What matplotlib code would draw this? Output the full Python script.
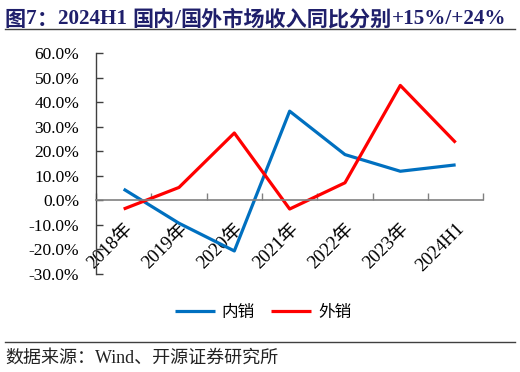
import matplotlib
matplotlib.use("Agg")
import matplotlib.pyplot as plt
from matplotlib.lines import Line2D

categories = ["2018年", "2019年", "2020年", "2021年", "2022年", "2023年", "2024H1"]
domestic = [4.6, -9.3, -20.6, 36.4, 18.7, 11.9, 14.5]
overseas = [-3.5, 5.3, 27.5, -3.5, 7.2, 46.9, 23.6]
yticks = [-30, -20, -10, 0, 10, 20, 30, 40, 50, 60]
title_parts = [("图", "cjk"), ("7", "lat"), ("：", "cjk"), ("2024H1 ", "lat"),
               ("国内", "cjk"), ("/", "lat"), ("国外市场收入同比分别", "cjk"),
               ("+15%/+24%", "lat")]

serif_cjk = ["Liberation Serif", "Noto Sans CJK SC"]
plt.rcParams["font.family"] = serif_cjk

fig = plt.figure(figsize=(5.2, 3.72), dpi=100)
ax = fig.add_axes([96 / 520, 1 - 274 / 372, (483.3 - 96) / 520, (274 - 53.3) / 372])

for s in ["top", "right"]:
    ax.spines[s].set_visible(False)
ax.spines["bottom"].set_position(("data", 0))
ax.spines["bottom"].set_color("#808080")
ax.spines["bottom"].set_linewidth(1.2)
ax.spines["left"].set_color("#404040")
ax.spines["left"].set_linewidth(1)

x = list(range(len(categories)))
ax.plot(x, domestic, color="#0070C0", lw=2.3, label="内销", solid_capstyle="butt")
ax.plot(x, overseas, color="#FF0000", lw=2.3, label="外销", solid_capstyle="butt")

ax.set_xlim(-0.5, len(categories) - 0.5)
ax.set_ylim(-30, 60)

ax.tick_params(axis="x", which="major", length=0, pad=14)
ax.tick_params(axis="x", which="minor", direction="in", length=5, color="#808080", width=1)
ax.tick_params(axis="y", direction="in", length=5, color="#404040", width=1, pad=12)

ax.set_yticks(yticks)
ax.set_yticklabels([f"{v:.1f}%" for v in yticks], fontsize=12.5)
ax.set_xticks([i - 0.5 for i in range(len(categories) + 1)], minor=True)
ax.set_xticks(x)
ax.set_xticklabels(categories, rotation=45, rotation_mode="anchor",
                   ha="right", va="top", fontsize=13.5)

# Title built from pieces so Latin parts stay bold serif
renderer = fig.canvas.get_renderer()
xpos = 5
for txt, kind in title_parts:
    fam = ["Liberation Serif"] if kind == "lat" else ["Noto Sans CJK SC"]
    t = fig.text(xpos / 520, 1 - 17 / 372, txt, family=fam, fontsize=15.2,
                 fontweight="bold", color="#1F1F6B", ha="left", va="center_baseline")
    bb = t.get_window_extent(renderer=renderer)
    xpos += bb.width

fig.add_artist(Line2D([5 / 520, 515 / 520], [1 - 29 / 372] * 2, color="#404040", lw=1))
fig.add_artist(Line2D([5 / 520, 515 / 520], [1 - 342 / 372] * 2, color="#404040", lw=1))
fig.text(5 / 520, 1 - 358 / 372, "数据来源：Wind、开源证券研究所",
         fontsize=13, color="#222222", ha="left", va="center")

leg = fig.legend(loc="center", bbox_to_anchor=(263 / 520, 1 - 313 / 372), ncol=2,
                 frameon=False, prop={"size": 12},
                 handlelength=2.4, columnspacing=1.0, handletextpad=0.4)

fig.savefig("out.png", dpi=100)
